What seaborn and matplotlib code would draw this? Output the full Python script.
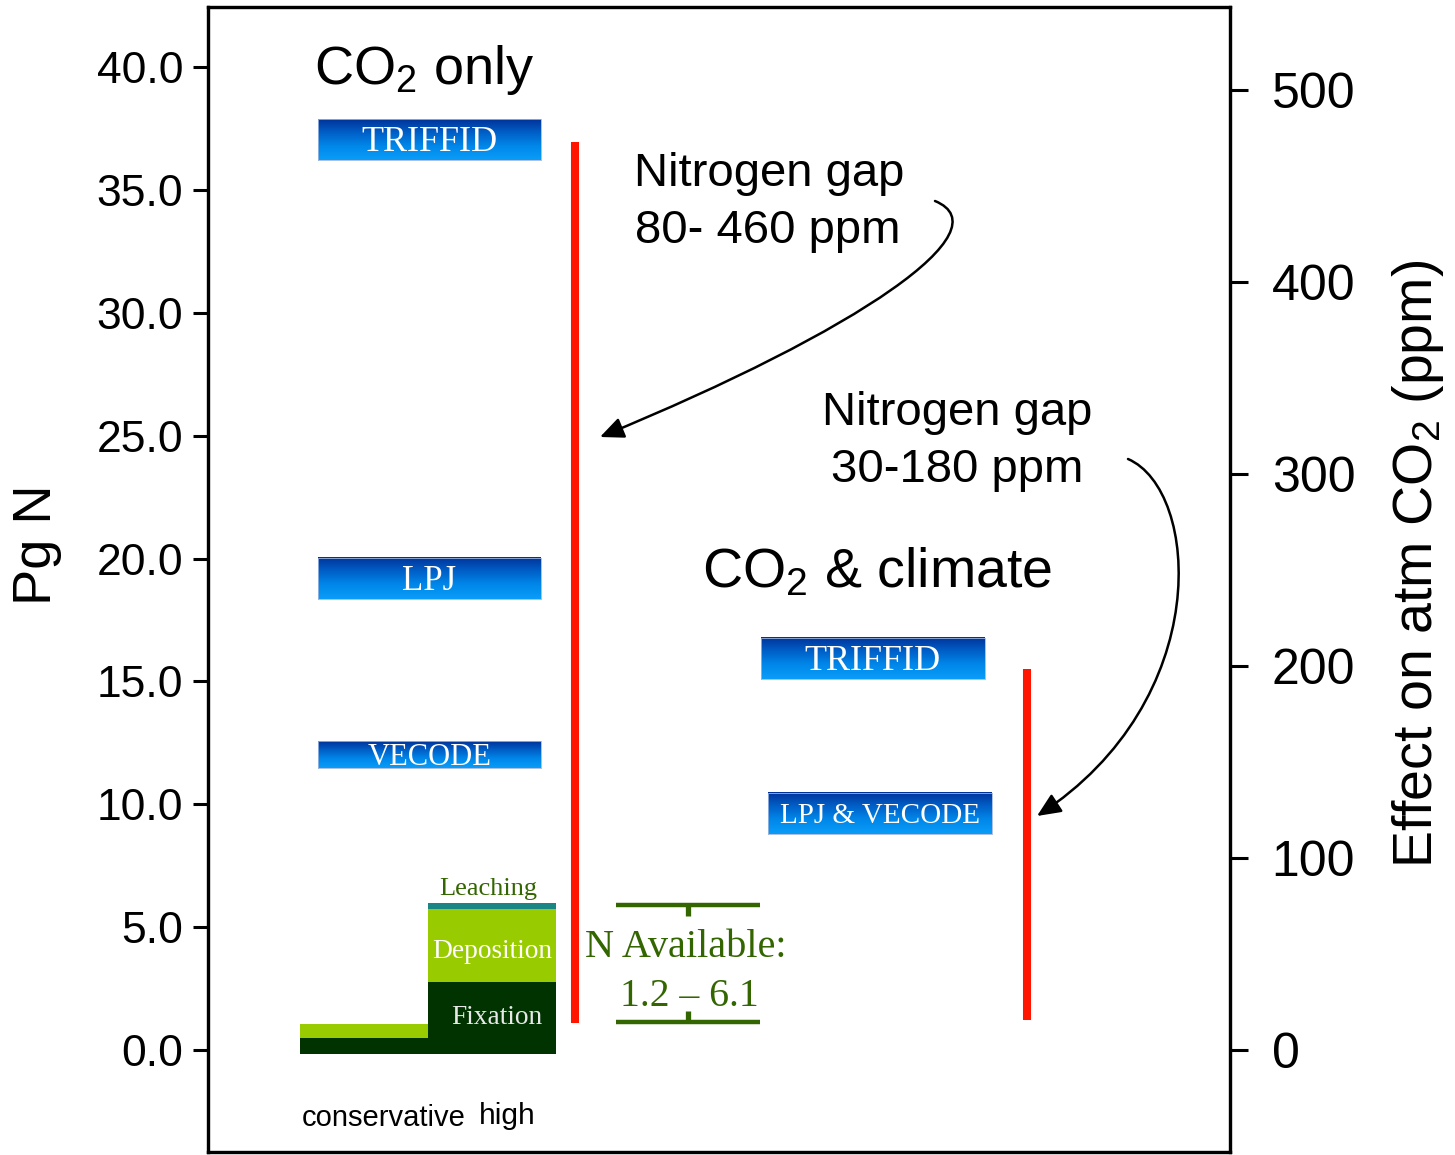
import numpy as np
import matplotlib
matplotlib.use("Agg")
import matplotlib.pyplot as plt
import seaborn as sns
from matplotlib.colors import LinearSegmentedColormap
from matplotlib.patches import FancyArrowPatch
from matplotlib.path import Path

# ---------------- data ----------------
supply_scenarios = ["conservative", "high"]
fixation = [0.65, 2.90]          # Pg N (stacked from baseline)
deposition = [0.55, 3.00]
leaching = [0.00, 0.25]
baseline = -0.15

co2_only_models = ["TRIFFID", "LPJ", "VECODE"]
co2_only_lo = [36.22, 18.35, 11.48]
co2_only_hi = [37.88, 20.02, 12.57]

climate_models = ["TRIFFID", "LPJ & VECODE"]
climate_lo = [15.10, 8.79]
climate_hi = [16.77, 10.46]

gap_lo = [1.10, 1.22]
gap_hi = [36.95, 15.50]

n_avail = [1.14, 5.90]
ppm_per_pgn = 12.8
right_ticks = [0, 100, 200, 300, 400, 500]
left_ticks = [0, 5, 10, 15, 20, 25, 30, 35, 40]

# ---------------- style ----------------
sns.set_theme(style="ticks")
plt.rcParams["font.family"] = ["Liberation Sans", "DejaVu Sans"]
plt.rcParams["text.color"] = "black"
plt.rcParams["axes.labelcolor"] = "black"
plt.rcParams["mathtext.fontset"] = "custom"
plt.rcParams["mathtext.rm"] = "Liberation Sans"
plt.rcParams["mathtext.it"] = "Liberation Sans:italic"
plt.rcParams["mathtext.bf"] = "Liberation Sans:bold"
SERIF = ["Liberation Serif", "DejaVu Serif"]

W, H = 1455, 1155
fig = plt.figure(figsize=(W / 100, H / 100), dpi=100)
fig.patch.set_facecolor("white")
ax = fig.add_axes([208 / W, 3 / H, (1230 - 208) / W, (1152 - 7) / H])
ax.set_facecolor("white")

def py(p):
    """pixel row -> Pg N (used only for annotation placement)"""
    return (1050 - p) / 24.575

XL, XR = 208, 1230
YLO, YHI = py(1152), py(7)

# ---------------- stacked supply bars ----------------
dark_green = "#003300"
light_green = "#99cc00"
teal = "#1a8585"
olive = "#336600"
xs = [300, 428]
bw = 128
fix = np.array(fixation)
dep = np.array(deposition)
lea = np.array(leaching)
ax.bar(xs, fix, width=bw, bottom=baseline, align="edge", color=dark_green, lw=0, zorder=2)
ax.bar(xs, dep, width=bw, bottom=baseline + fix, align="edge", color=light_green, lw=0, zorder=2)
ax.bar(xs, lea, width=bw, bottom=baseline + fix + dep, align="edge", color=teal, lw=0, zorder=2)

hx = xs[1] + bw / 2
ax.text(hx - 4, py(895), "Leaching", family=SERIF, fontsize=19, color=olive, ha="center", va="baseline")
ax.text(hx, py(958), "Deposition", family=SERIF, fontsize=19.7, color="white", ha="center", va="baseline")
ax.text(hx + 5, py(1024), "Fixation", family=SERIF, fontsize=19.7, color="#e8e8e8", ha="center", va="baseline")

ax.text(384, py(1126), supply_scenarios[0], fontsize=21, color="black", ha="center", va="baseline")
ax.text(507, py(1124), supply_scenarios[1], fontsize=21.5, color="black", ha="center", va="baseline")

# ---------------- model boxes with gradient ----------------
cmap = LinearSegmentedColormap.from_list("box", ["#0a9cf8", "#0088ea", "#0060c8", "#00339a"])
grad = np.linspace(0, 1, 64).reshape(-1, 1)

def model_box(x0, x1, lo, hi, label, fs):
    ax.imshow(grad, extent=(x0, x1, lo, hi), origin="lower", cmap=cmap,
              aspect="auto", interpolation="bilinear", zorder=2)
    ax.plot([x0, x1, x1, x0, x0], [lo, lo, hi, hi, lo], color="#9fb6e0", lw=0.6, zorder=3)
    ax.text((x0 + x1) / 2, (lo + hi) / 2 - 0.12, label, family=SERIF, fontsize=fs,
            color="white", ha="center", va="center", zorder=4)

co2_fs = [26, 25, 22]
for name, lo, hi, fs in zip(co2_only_models, co2_only_lo, co2_only_hi, co2_fs):
    model_box(318, 541, lo, hi, name, fs)
cl_x = [(761, 985), (768, 992)]
cl_fs = [26, 21]
for name, lo, hi, (x0, x1), fs in zip(climate_models, climate_lo, climate_hi, cl_x, cl_fs):
    model_box(x0, x1, lo, hi, name, fs)

# ---------------- nitrogen gap lines ----------------
red = "#ff1500"
for gx, lo, hi in zip([575, 1027], gap_lo, gap_hi):
    ax.plot([gx, gx], [lo, hi], color=red, lw=5.8, solid_capstyle="butt", zorder=3)

# ---------------- N available bracket ----------------
ax.hlines(n_avail, 616, 760, color=olive, lw=3.2, zorder=3)
ax.vlines(688, n_avail[1] - 0.45, n_avail[1], color=olive, lw=3.8, zorder=3)
ax.vlines(688, n_avail[0], n_avail[0] + 0.45, color=olive, lw=3.8, zorder=3)
ax.text(686, py(957), "N Available:", family=SERIF, fontsize=29, color=olive, ha="center", va="baseline")
ax.text(689, py(1006), "1.2 \u2013 6.1", family=SERIF, fontsize=28.5, color=olive, ha="center", va="baseline")

# ---------------- headings ----------------
ax.text(424, py(84), r"CO$_2$ only", fontsize=39, ha="center", va="baseline")
ax.text(877, py(587), r"CO$_2$ & climate", fontsize=40, ha="center", va="baseline")
ax.text(769, py(186), "Nitrogen gap", fontsize=34, ha="center", va="baseline")
ax.text(768, py(243), "80- 460 ppm", fontsize=34, ha="center", va="baseline")
ax.text(957, py(425), "Nitrogen gap", fontsize=34, ha="center", va="baseline")
ax.text(957, py(482), "30-180 ppm", fontsize=34, ha="center", va="baseline")

# ---------------- curved arrows ----------------
def curved_arrow(pts):
    verts = [(x, py(y)) for x, y in pts]
    path = Path(verts, [Path.MOVETO, Path.CURVE4, Path.CURVE4, Path.CURVE4])
    arr = FancyArrowPatch(path=path, arrowstyle="-|>,head_length=0.9,head_width=0.4",
                          mutation_scale=16, lw=1.8, color="black", zorder=5)
    ax.add_patch(arr)

curved_arrow([(935, 201), (1005, 230), (860, 330), (600, 437)])
curved_arrow([(1128, 459), (1200, 490), (1215, 700), (1037, 816)])

# ---------------- axes ----------------
ax.set_xlim(XL, XR)
ax.set_ylim(YLO, YHI)
ax.set_xticks([])
ax.set_yticks(left_ticks)
ax.set_yticklabels([f"{v:.1f}" for v in left_ticks])
for s in ax.spines.values():
    s.set_linewidth(2.3)
    s.set_color("black")
    s.set_visible(True)
ax.tick_params(axis="y", which="major", length=11, width=2.2, labelsize=32,
               pad=7, color="black", labelcolor="black", direction="out")

ax2 = ax.twinx()
ax2.set_ylim(YLO * ppm_per_pgn, YHI * ppm_per_pgn)
ax2.set_yticks(right_ticks)
ax2.set_yticklabels([str(v) for v in right_ticks])
ax2.tick_params(axis="y", length=13, width=2.2, labelsize=36, pad=17,
                color="black", labelcolor="black", direction="out")
for s in ax2.spines.values():
    s.set_linewidth(2.3)
    s.set_color("black")

fig.text(37 / W, 1 - 545 / H, "Pg N", fontsize=39, rotation=90, ha="center", va="center")
fig.text(1418 / W, 1 - 564 / H, r"Effect on atm CO$_2$ (ppm)", fontsize=40,
         rotation=90, ha="center", va="center")

fig.savefig("out.png", dpi=100, facecolor="white")
